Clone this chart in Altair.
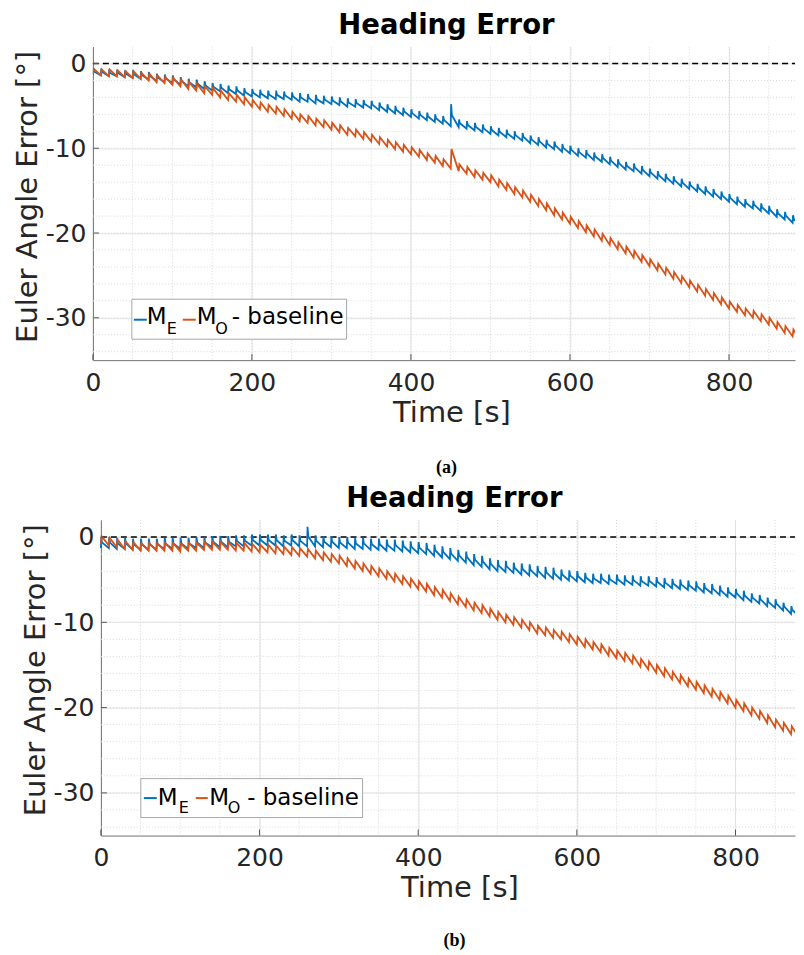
import altair as alt
import pandas as pd

BLUE = "#0072BD"
ORANGE = "#D95319"
FONT = "DejaVu Sans"
TXT = "#262626"

# ---------------- panel (a) ----------------
A_T = list(range(0, 900, 10))
A_ME_LO = [-1.3, -1.4, -1.5, -1.5, -1.6, -1.7, -1.8, -1.9, -2.1, -2.2,
           -2.3, -2.5, -2.7, -2.8, -3.0, -3.2, -3.3, -3.5, -3.6, -3.8,
           -3.9, -4.0, -4.1, -4.2, -4.2, -4.3, -4.5, -4.5, -4.7, -4.7,
           -4.8, -4.9, -5.1, -5.1, -5.2, -5.3, -5.5, -5.7, -5.9, -6.1,
           -6.3, -6.5, -6.7, -6.9, -7.1, -7.4, -7.5, -7.7, -7.9, -8.1,
           -8.3, -8.5, -8.7, -8.9, -9.1, -9.4, -9.6, -9.9, -10.1, -10.4,
           -10.6, -10.9, -11.1, -11.4, -11.6, -11.9, -12.2, -12.5, -12.7, -13.0,
           -13.3, -13.6, -13.9, -14.2, -14.5, -14.8, -15.1, -15.4, -15.7, -16.0,
           -16.3, -16.6, -16.9, -17.1, -17.4, -17.7, -18.1, -18.4, -18.8, -19.1]
A_ME_HI = [-0.6, -0.6, -0.7, -0.7, -0.8, -0.8, -0.9, -1.0, -1.2, -1.3,
           -1.4, -1.6, -1.8, -1.9, -2.1, -2.3, -2.4, -2.6, -2.7, -2.9,
           -3.0, -3.1, -3.2, -3.2, -3.3, -3.4, -3.5, -3.6, -3.7, -3.8,
           -3.9, -4.0, -4.1, -4.2, -4.3, -4.4, -4.6, -4.8, -5.0, -5.2,
           -5.4, -5.6, -5.8, -6.0, -6.2, -4.8, -6.6, -6.8, -7.0, -7.2,
           -7.4, -7.6, -7.8, -8.0, -8.2, -8.5, -8.7, -9.0, -9.2, -9.5,
           -9.7, -10.0, -10.2, -10.5, -10.7, -11.0, -11.3, -11.6, -11.8, -12.1,
           -12.4, -12.7, -13.0, -13.3, -13.6, -13.9, -14.2, -14.5, -14.8, -15.1,
           -15.4, -15.7, -16.0, -16.2, -16.5, -16.8, -17.2, -17.5, -17.9, -18.2]
A_MO_LO = [-1.3, -1.4, -1.5, -1.5, -1.6, -1.7, -1.8, -2.0, -2.2, -2.3,
           -2.5, -2.7, -3.0, -3.2, -3.5, -3.7, -4.0, -4.3, -4.5, -4.8,
           -5.1, -5.4, -5.7, -5.9, -6.2, -6.5, -6.8, -7.0, -7.3, -7.5,
           -7.8, -8.1, -8.4, -8.6, -8.9, -9.2, -9.5, -9.8, -10.1, -10.4,
           -10.7, -11.0, -11.4, -11.7, -12.1, -12.4, -12.7, -13.0, -13.4, -13.7,
           -14.0, -14.5, -14.9, -15.4, -15.8, -16.3, -16.8, -17.3, -17.9, -18.4,
           -18.9, -19.4, -19.9, -20.4, -20.9, -21.4, -21.9, -22.4, -22.9, -23.4,
           -23.9, -24.4, -24.9, -25.4, -25.9, -26.4, -26.9, -27.4, -27.9, -28.4,
           -28.9, -29.3, -29.7, -30.0, -30.4, -30.8, -31.3, -31.8, -32.2, -32.7]
A_MO_HI = [-0.6, -0.7, -0.7, -0.8, -0.9, -0.9, -1.1, -1.2, -1.4, -1.6,
           -1.7, -1.9, -2.2, -2.4, -2.7, -2.9, -3.2, -3.5, -3.7, -4.0,
           -4.3, -4.6, -4.9, -5.1, -5.4, -5.7, -6.0, -6.2, -6.5, -6.7,
           -7.0, -7.3, -7.6, -7.8, -8.1, -8.4, -8.7, -9.0, -9.3, -9.6,
           -9.9, -10.2, -10.6, -10.9, -11.3, -10.1, -11.9, -12.2, -12.6, -12.9,
           -13.2, -13.7, -14.1, -14.6, -15.0, -15.5, -16.0, -16.5, -17.1, -17.6,
           -18.1, -18.6, -19.1, -19.6, -20.1, -20.6, -21.1, -21.6, -22.1, -22.6,
           -23.1, -23.6, -24.1, -24.6, -25.1, -25.6, -26.1, -26.6, -27.1, -27.6,
           -28.1, -28.5, -28.9, -29.2, -29.6, -30.0, -30.5, -31.0, -31.4, -31.9]

# ---------------- panel (b) ----------------
B_T = list(range(0, 890, 10))
B_ME_LO = [-1.3, -1.3, -1.4, -1.4, -1.5, -1.5, -1.5, -1.5, -1.4, -1.4,
           -1.4, -1.4, -1.3, -1.3, -1.2, -1.2, -1.2, -1.1, -1.1, -1.0,
           -1.0, -1.0, -1.0, -1.1, -1.0, -1.1, -1.1, -1.1, -1.2, -1.2,
           -1.3, -1.3, -1.4, -1.4, -1.5, -1.5, -1.6, -1.6, -1.7, -1.8,
           -1.9, -2.0, -2.2, -2.4, -2.6, -2.8, -3.0, -3.3, -3.5, -3.8,
           -4.0, -4.1, -4.2, -4.4, -4.5, -4.6, -4.8, -4.9, -5.0, -5.1,
           -5.2, -5.3, -5.4, -5.4, -5.5, -5.5, -5.6, -5.6, -5.7, -5.7,
           -5.8, -5.9, -6.0, -6.1, -6.2, -6.3, -6.5, -6.6, -6.8, -7.0,
           -7.1, -7.4, -7.6, -7.8, -8.1, -8.3, -8.6, -9.0, -9.3]
B_ME_HI = [0.0, 0.0, -0.1, -0.1, -0.2, -0.2, -0.2, -0.2, -0.1, -0.1,
           -0.1, -0.1, 0.0, 0.0, 0.1, 0.1, 0.1, 0.2, 0.2, 0.3,
           0.3, 0.3, 0.3, 0.2, 0.3, 0.2, 1.2, 0.2, 0.1, 0.1,
           0.0, 0.0, -0.1, -0.1, -0.2, -0.2, -0.3, -0.3, -0.4, -0.5,
           -0.6, -0.7, -0.9, -1.1, -1.3, -1.5, -1.7, -2.0, -2.2, -2.5,
           -2.7, -2.8, -3.0, -3.1, -3.2, -3.4, -3.5, -3.6, -3.8, -3.9,
           -4.0, -4.2, -4.3, -4.3, -4.4, -4.4, -4.5, -4.5, -4.6, -4.6,
           -4.7, -4.8, -4.9, -5.0, -5.1, -5.2, -5.4, -5.5, -5.7, -5.9,
           -6.1, -6.3, -6.6, -6.8, -7.1, -7.3, -7.7, -8.1, -8.6]
B_MO_LO = [-0.8, -1.0, -1.2, -1.4, -1.5, -1.6, -1.6, -1.6, -1.6, -1.6,
           -1.7, -1.6, -1.6, -1.5, -1.5, -1.5, -1.5, -1.6, -1.6, -1.7,
           -1.8, -1.8, -1.9, -2.0, -2.1, -2.2, -2.3, -2.5, -2.7, -2.9,
           -3.1, -3.4, -3.7, -4.0, -4.3, -4.6, -4.9, -5.2, -5.5, -5.8,
           -6.1, -6.4, -6.8, -7.1, -7.5, -7.9, -8.2, -8.6, -8.9, -9.3,
           -9.7, -10.0, -10.3, -10.6, -10.9, -11.3, -11.5, -11.8, -12.0, -12.3,
           -12.6, -12.9, -13.2, -13.5, -13.9, -14.2, -14.5, -14.8, -15.2, -15.5,
           -15.9, -16.3, -16.7, -17.1, -17.5, -17.9, -18.3, -18.7, -19.1, -19.5,
           -20.0, -20.4, -20.9, -21.3, -21.8, -22.3, -22.7, -23.1, -23.5]
B_MO_HI = [0.1, -0.1, -0.3, -0.5, -0.6, -0.7, -0.7, -0.7, -0.7, -0.7,
           -0.8, -0.7, -0.7, -0.6, -0.6, -0.6, -0.6, -0.7, -0.7, -0.8,
           -0.9, -0.9, -1.0, -1.1, -1.2, -1.3, -1.4, -1.6, -1.8, -2.0,
           -2.2, -2.5, -2.8, -3.1, -3.4, -3.7, -4.0, -4.3, -4.6, -4.9,
           -5.2, -5.5, -5.9, -6.2, -6.6, -7.0, -7.3, -7.7, -8.0, -8.4,
           -8.8, -9.1, -9.4, -9.7, -10.0, -10.4, -10.6, -10.9, -11.1, -11.4,
           -11.7, -12.0, -12.3, -12.6, -13.0, -13.3, -13.6, -13.9, -14.3, -14.6,
           -15.0, -15.4, -15.8, -16.2, -16.6, -17.0, -17.4, -17.8, -18.2, -18.6,
           -19.1, -19.5, -20.0, -20.4, -20.9, -21.4, -21.8, -22.2, -22.6]

SERIES = ["M_E", "M_O - baseline"]
X_TICKS = [0, 200, 400, 600, 800]
Y_TICKS = [-30, -20, -10, 0]
X_MINOR = list(range(50, 900, 50))
Y_MINOR = list(range(-34, 2, 2))


def sawtooth_rows(t, lo, hi, name):
    """Each 10 s cycle: low reading, then a quick jump to the high reading."""
    rows = []
    for i, (ti, l, h) in enumerate(zip(t, lo, hi)):
        rows.append({"t": ti, "v": l, "s": name, "o": 3 * i})
        rows.append({"t": ti + 1, "v": h, "s": name, "o": 3 * i + 1})
    return rows


def spike_rows(t, lo, hi, name):
    """Each 10 s cycle: low reading, sharp spike to the high reading, then back
    to mid-band and a slow drift down to the next low."""
    rows = []
    for i, (ti, l, h) in enumerate(zip(t, lo, hi)):
        m = round((l + h) / 2, 2)
        rows.append({"t": ti, "v": l, "s": name, "o": 3 * i})
        rows.append({"t": ti + 0.5, "v": h, "s": name, "o": 3 * i + 1})
        rows.append({"t": ti + 1.5, "v": m, "s": name, "o": 3 * i + 2})
    return rows


def panel(width, height, x0, xmax, df, leg, caption, top, bottom, cx):
    """x0 = left inset of the plot area inside the panel group."""
    xs = alt.Scale(domain=[0, xmax], nice=False, zero=False, range=[x0, width])
    ys = alt.Scale(domain=[-35, 2], nice=False, zero=False)
    ax_x = alt.Axis(
        values=X_TICKS, title="Time [s]", grid=True, gridColor="#e3e3e3",
        ticks=False, tickSize=0, labelPadding=10, labelFontSize=25,
        labelFont=FONT, labelColor=TXT, titleFont=FONT, titleFontSize=29,
        titleFontWeight="normal", titleColor=TXT, titleBaseline="alphabetic",
        titleY=61, titleX=cx + 5, domainColor="#707070",
        labelFlush=False, labelExpr="'' + datum.value")
    ax_y = alt.Axis(
        values=Y_TICKS, title="Euler Angle Error [°]", grid=True,
        gridColor="#e3e3e3", ticks=False, tickSize=0, labelPadding=7,
        labelFontSize=25, labelFont=FONT, labelColor=TXT, titleFont=FONT,
        titleFontSize=29, titleFontWeight="normal", titleColor=TXT,
        titleBaseline="top", titleAngle=270, titleAlign="center",
        titleX=-79, titleY=150, domainColor="#707070", offset=-x0,
        labelFlush=False, labelExpr="'' + datum.value")
    one = pd.DataFrame({"k": [0]})

    def X(f):
        return alt.X(f, scale=xs, axis=ax_x)

    def Y(f):
        return alt.Y(f, scale=ys, axis=ax_y)

    lines = alt.Chart(df).mark_line(strokeWidth=1.8, clip=True).encode(
        x=X("t:Q"), y=Y("v:Q"),
        color=alt.Color("s:N", scale=alt.Scale(domain=SERIES, range=[BLUE, ORANGE]),
                        legend=None),
        order="o:Q")

    # invisible frame fixing the panel's outer bounds
    anchor = alt.Chart(one).mark_rect(fill="white", opacity=1).encode(
        x=alt.value(-85), x2=alt.value(-84),
        y=alt.value(top), y2=alt.value(bottom))

    minor_x = alt.Chart(pd.DataFrame({"t": X_MINOR})).mark_rule(
        color="#d9d9d9", strokeDash=[1, 2], strokeWidth=1, clip=True).encode(x=X("t:Q"))
    minor_y = alt.Chart(pd.DataFrame({"v": Y_MINOR})).mark_rule(
        color="#d9d9d9", strokeDash=[1, 2], strokeWidth=1).encode(
        y=Y("v:Q"), x=alt.value(x0), x2=alt.value(width))

    xtick = alt.Chart(pd.DataFrame({"t": X_TICKS})).mark_rule(
        color="#555555", strokeWidth=1).encode(
        x=X("t:Q"), y=alt.value(height), y2=alt.value(height - 6))
    ytick = alt.Chart(pd.DataFrame({"v": Y_TICKS})).mark_rule(
        color="#555555", strokeWidth=1).encode(
        y=Y("v:Q"), x=alt.value(x0), x2=alt.value(x0 + 6))

    zero = alt.Chart(pd.DataFrame({"v": [0]})).mark_rule(
        color="black", strokeDash=[6, 4], strokeWidth=1.6).encode(
        y=Y("v:Q"), x=alt.value(x0), x2=alt.value(width))

    bx0, bx1, by0, by1 = leg["box"]
    box = alt.Chart(one).mark_rect(fill="white", stroke="#a8a8a8", strokeWidth=1).encode(
        x=alt.value(x0 + bx0), x2=alt.value(x0 + bx1), y=alt.value(by0), y2=alt.value(by1))
    layers_leg = [box]
    for (a, b, yy, col) in leg["lines"]:
        layers_leg.append(alt.Chart(one).mark_rule(color=col, strokeWidth=2).encode(
            x=alt.value(x0 + a), x2=alt.value(x0 + b), y=alt.value(yy)))
    for (txt, xx, yy, size) in leg["texts"]:
        layers_leg.append(alt.Chart(one).mark_text(
            text=txt, font=FONT, fontSize=size, color="black", align="left",
            baseline="alphabetic").encode(x=alt.value(x0 + xx), y=alt.value(yy)))

    title = alt.Chart(one).mark_text(
        text="Heading Error", font=FONT, fontSize=27.5, fontWeight="bold",
        color="black", align="center", baseline="top").encode(
        x=alt.value(cx), y=alt.value(-35))
    cap = alt.Chart(one).mark_text(
        text=caption, font="Liberation Serif", fontSize=18, fontWeight="bold",
        color="black", align="center", baseline="top").encode(
        x=alt.value(cx), y=alt.value(413))

    return alt.layer(anchor, minor_x, minor_y, zero, lines, xtick, ytick,
                     *layers_leg, title, cap).properties(
        width=width, height=height)


df_a = pd.DataFrame(spike_rows(A_T, A_ME_LO, A_ME_HI, SERIES[0]) +
                    sawtooth_rows(A_T, A_MO_LO, A_MO_HI, SERIES[1]))
df_b = pd.DataFrame(spike_rows(B_T, B_ME_LO, B_ME_HI, SERIES[0]) +
                    sawtooth_rows(B_T, B_MO_LO, B_MO_HI, SERIES[1]))

leg_a = {
    "box": (39, 254, 253, 293),
    "lines": [(41, 54, 273.5, BLUE), (90, 103, 273.5, ORANGE)],
    "texts": [("M", 54, 278, 23), ("E", 74, 288, 16), ("M", 104, 278, 23),
              ("O", 122.5, 288, 16), ("- baseline", 139, 278, 23)],
}
leg_b = {
    "box": (40, 262, 259, 298),
    "lines": [(43, 56, 278.5, BLUE), (95, 107, 278.5, ORANGE)],
    "texts": [("M", 57, 285, 23), ("E", 78, 293, 16), ("M", 108.5, 285, 23),
              ("O", 127, 293, 16), ("- baseline", 146.5, 285, 23)],
}

# page width 804 minus 2x8 margin leaves 788 px for the whole chart
pa = panel(703, 314, 0, 883, df_a, leg_a, "(a)", -38, 435, 354)
pb = panel(703, 316, 8, 875, df_b, leg_b, "(b)", -39, 430, 362)

chart = alt.vconcat(pa, pb, spacing=0).properties(
    padding={"left": 0, "top": 0, "right": 0, "bottom": 0}).configure_view(strokeWidth=0)

chart.save("out.html", embed_options={"renderer": "svg", "actions": False})
